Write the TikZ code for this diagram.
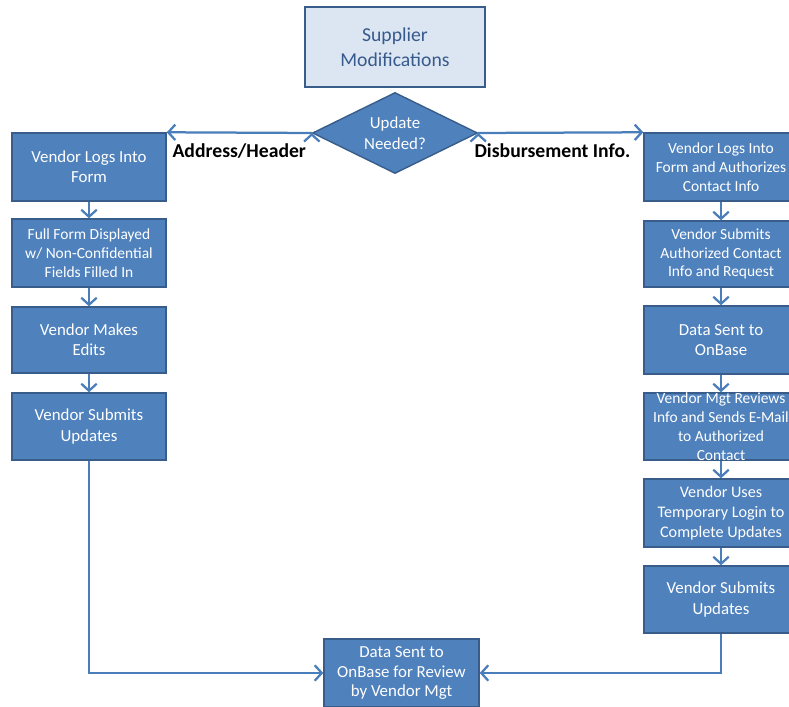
\documentclass[tikz,border=0pt]{standalone}
\usepackage{fontspec}
\setmainfont{Carlito}
\usetikzlibrary{shapes.geometric,arrows.meta}

\definecolor{stepfill}{HTML}{4F81BD}
\definecolor{stepline}{HTML}{385D8A}
\definecolor{headfill}{HTML}{DCE6F2}
\definecolor{headtext}{HTML}{375A8C}
\definecolor{flowline}{HTML}{4A7EBB}

\begin{document}
\begin{tikzpicture}[x=0.025cm,y=-0.025cm,
  stepbox/.style={shape=rectangle,draw=stepline,fill=stepfill,line width=1pt,text=white,align=center,
    minimum width=3.85cm,minimum height=1.7cm,inner sep=1pt,font=\fontsize{12}{14.5}\selectfont},
  small/.style={font=\fontsize{11}{13.4}\selectfont},
  flow/.style={draw=flowline,line width=1.6pt,-{Straight Barb[length=5pt,width=11pt]}},
  branch/.style={font=\fontsize{14}{16}\selectfont\bfseries,text=black,inner sep=0pt}]
\clip (0,0) rectangle (789,707);

% start and decision
\node[shape=rectangle,draw=stepline,fill=headfill,line width=1pt,text=headtext,align=center,minimum width=4.5cm,minimum height=2cm,font=\fontsize{14}{17.7}\selectfont] (start) at (395,47) {Supplier\\Modifications};
\node[shape=diamond,aspect=2,draw=stepline,fill=stepfill,line width=1pt,text=white,align=center,inner sep=0pt,minimum width=4.125cm,minimum height=2.025cm,font=\fontsize{12}{15}\selectfont] (need) at (395,133) {Update\\Needed?};

% address / header branch
\node[stepbox] (L1) at (89,167) {Vendor Logs Into\\Form};
\node[stepbox,small] (L2) at (89,253) {Full Form Displayed\\w/ Non-Confidential\\Fields Filled In};
\node[stepbox,minimum height=1.65cm] (L3) at (89,340) {Vendor Makes\\Edits};
\node[stepbox,minimum height=1.675cm] (L4) at (89,426.5) {Vendor Submits\\Updates};

% disbursement branch
\node[stepbox,small] (R1) at (721,167) {Vendor Logs Into\\Form and Authorizes\\Contact Info};
\node[stepbox,small,minimum height=1.65cm] (R2) at (721,254) {Vendor Submits\\Authorized Contact\\Info and Request};
\node[stepbox] (R3) at (721,340) {Data Sent to\\OnBase};
\node[stepbox,small,minimum height=1.675cm,inner ysep=-3pt] (R4) at (721,426.5) {Vendor Mgt Reviews\\Info and Sends E-Mail\\to Authorized\\Contact};
\node[stepbox,font=\fontsize{11.5}{14.2}\selectfont] (R5) at (721,513) {Vendor Uses\\Temporary Login to\\Complete Updates};
\node[stepbox,minimum height=1.675cm] (R6) at (721,599.5) {Vendor Submits\\Updates};

% end
\node[stepbox,minimum width=3.875cm,font=\fontsize{12}{14}\selectfont] (done) at (401.5,673) {Data Sent to\\OnBase for Review\\by Vendor Mgt};

\path [flow] (need.west) edge node[branch,below=7pt] {Address/Header} (L1.north east);
\path [flow] (need.east) edge node[branch,below=7pt,pos=0.45] {Disbursement Info.} (R1.north west);

\path [flow] (L1) edge (L2) (L2) edge (L3) (L3) edge (L4);
\path [flow] (R1) edge (R2) (R2) edge (R3) (R3) edge (R4) (R4) edge (R5) (R5) edge (R6);

\draw [flow] (L4.south) |- (done.west);
\draw [flow] (R6.south) |- (done.east);
\end{tikzpicture}
\end{document}
